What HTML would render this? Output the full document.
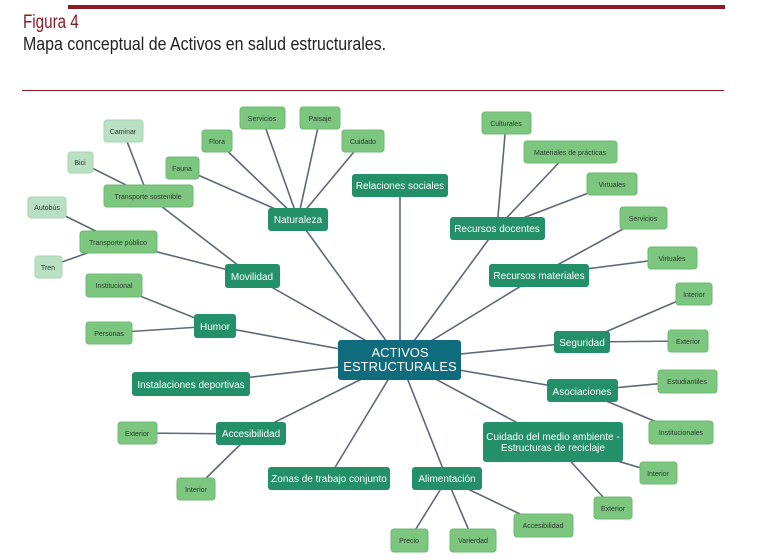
<!DOCTYPE html>
<html><head><meta charset="utf-8"><style>
html,body{margin:0;padding:0;background:#fff;width:763px;height:560px;overflow:hidden}
.h{position:absolute;font-family:"Liberation Sans",sans-serif;transform-origin:0 0;white-space:nowrap}
</style></head><body>
<div style="position:absolute;left:68px;top:5px;width:657px;height:4px;background:#8b1a24"></div>
<div class="h" style="left:23px;top:13px;font-size:19px;color:#8b1a24;line-height:20px;transform:scaleX(0.8)">Figura 4</div>
<div class="h" style="left:23px;top:34px;font-size:18px;color:#222;line-height:20px;transform:scaleX(0.885)">Mapa conceptual de Activos en salud estructurales.</div>
<div style="position:absolute;left:22px;top:90px;width:702px;height:1px;background:#8b1a24"></div>
<svg width="763" height="560" style="position:absolute;left:0;top:0" font-family="Liberation Sans, sans-serif">
<g stroke="#5f6779" stroke-width="1.6" fill="none">
<line x1="400" y1="360" x2="298" y2="219"/><line x1="400" y1="360" x2="400" y2="185"/>
<line x1="400" y1="360" x2="497" y2="228"/><line x1="400" y1="360" x2="539" y2="275"/>
<line x1="400" y1="360" x2="252" y2="276"/><line x1="400" y1="360" x2="215" y2="326"/>
<line x1="400" y1="360" x2="582" y2="342"/><line x1="400" y1="360" x2="191" y2="384"/>
<line x1="400" y1="360" x2="582" y2="391"/><line x1="400" y1="360" x2="251" y2="434"/>
<line x1="400" y1="360" x2="553" y2="442"/><line x1="400" y1="360" x2="328" y2="479"/>
<line x1="400" y1="360" x2="447" y2="479"/>
<line x1="298" y1="219" x2="217" y2="141"/><line x1="298" y1="219" x2="262" y2="118"/>
<line x1="298" y1="219" x2="320" y2="118"/><line x1="298" y1="219" x2="363" y2="141"/>
<line x1="298" y1="219" x2="182" y2="168"/>
<line x1="252" y1="276" x2="148" y2="196"/><line x1="252" y1="276" x2="118" y2="242"/>
<line x1="148" y1="196" x2="123" y2="131"/><line x1="148" y1="196" x2="80" y2="162"/>
<line x1="118" y1="242" x2="47" y2="207"/><line x1="118" y1="242" x2="48" y2="267"/>
<line x1="215" y1="326" x2="115" y2="286"/><line x1="215" y1="326" x2="108" y2="333"/>
<line x1="497" y1="228" x2="506" y2="123"/><line x1="497" y1="228" x2="570" y2="151"/>
<line x1="497" y1="228" x2="612" y2="184"/>
<line x1="539" y1="275" x2="643" y2="218"/><line x1="539" y1="275" x2="672" y2="258"/>
<line x1="582" y1="342" x2="694" y2="294"/><line x1="582" y1="342" x2="688" y2="341"/>
<line x1="582" y1="391" x2="687" y2="381"/><line x1="582" y1="391" x2="681" y2="432"/>
<line x1="553" y1="442" x2="658" y2="473"/><line x1="553" y1="442" x2="613" y2="508"/>
<line x1="447" y1="479" x2="543" y2="525"/><line x1="447" y1="479" x2="473" y2="540"/>
<line x1="447" y1="479" x2="409" y2="540"/>
<line x1="251" y1="434" x2="137" y2="433"/><line x1="251" y1="434" x2="196" y2="488"/>
</g>
<g fill="#b9e0c2" stroke="#a6d6b0">
<rect x="104" y="120" width="39" height="22" rx="3"/><rect x="68" y="152" width="25" height="21" rx="3"/>
<rect x="28" y="197" width="38" height="21" rx="3"/><rect x="35" y="256" width="27" height="22" rx="3"/>
</g>
<g fill="#7cc67f" stroke="#6bbb70">
<rect x="202" y="130" width="30" height="22" rx="3"/><rect x="240" y="107" width="45" height="22" rx="3"/>
<rect x="300" y="107" width="40" height="22" rx="3"/><rect x="342" y="130" width="42" height="22" rx="3"/>
<rect x="166" y="157" width="33" height="22" rx="3"/><rect x="104" y="185" width="89" height="22" rx="3"/>
<rect x="80" y="231" width="77" height="22" rx="3"/><rect x="86" y="274" width="56" height="23" rx="3"/>
<rect x="86" y="322" width="46" height="22" rx="3"/><rect x="482" y="112" width="49" height="22" rx="3"/>
<rect x="524" y="141" width="93" height="22" rx="3"/><rect x="587" y="173" width="50" height="22" rx="3"/>
<rect x="620" y="207" width="47" height="22" rx="3"/><rect x="648" y="247" width="49" height="22" rx="3"/>
<rect x="676" y="283" width="36" height="22" rx="3"/><rect x="668" y="330" width="40" height="22" rx="3"/>
<rect x="658" y="370" width="59" height="23" rx="3"/><rect x="649" y="421" width="64" height="23" rx="3"/>
<rect x="640" y="462" width="37" height="22" rx="3"/><rect x="594" y="497" width="38" height="22" rx="3"/>
<rect x="514" y="514" width="59" height="23" rx="3"/><rect x="450" y="529" width="46" height="23" rx="3"/>
<rect x="391" y="529" width="37" height="23" rx="3"/><rect x="118" y="422" width="39" height="22" rx="3"/>
<rect x="177" y="478" width="38" height="22" rx="3"/>
</g>
<g fill="#23906a">
<rect x="268" y="208" width="60" height="23" rx="3"/><rect x="352" y="174" width="96" height="23" rx="3"/>
<rect x="450" y="217" width="95" height="23" rx="3"/><rect x="489" y="264" width="100" height="23" rx="3"/>
<rect x="225" y="264" width="55" height="24" rx="3"/><rect x="194" y="314" width="42" height="24" rx="3"/>
<rect x="554" y="331" width="56" height="22" rx="3"/><rect x="132" y="372" width="118" height="24" rx="3"/>
<rect x="547" y="379" width="71" height="23" rx="3"/><rect x="216" y="422" width="70" height="23" rx="3"/>
<rect x="483" y="422" width="140" height="40" rx="3"/><rect x="268" y="467" width="122" height="23" rx="3"/>
<rect x="412" y="467" width="70" height="23" rx="3"/>
</g>
<rect x="338" y="340" width="123" height="40" rx="3" fill="#0f6c7c"/>
<g fill="#fff" font-size="10" text-anchor="middle">
<text x="298" y="223">Naturaleza</text><text x="400" y="189">Relaciones sociales</text>
<text x="497" y="232">Recursos docentes</text><text x="539" y="279">Recursos materiales</text>
<text x="252" y="280">Movilidad</text><text x="215" y="330">Humor</text>
<text x="582" y="346">Seguridad</text><text x="191" y="388">Instalaciones deportivas</text>
<text x="582" y="395">Asociaciones</text><text x="251" y="437">Accesibilidad</text>
<text x="553" y="440">Cuidado del medio ambiente -</text><text x="553" y="451">Estructuras de reciclaje</text>
<text x="329" y="482">Zonas de trabajo conjunto</text><text x="447" y="482">Alimentación</text>
<text x="400" y="357" font-size="13">ACTIVOS</text><text x="400" y="371" font-size="13">ESTRUCTURALES</text>
</g>
<g fill="#2d3a2f" font-size="7" text-anchor="middle">
<text x="123" y="134">Caminar</text><text x="80" y="165">Bici</text><text x="47" y="210">Autobús</text><text x="48" y="270">Tren</text>
<text x="217" y="144">Flora</text><text x="262" y="121">Servicios</text><text x="320" y="121">Paisaje</text><text x="363" y="144">Cuidado</text>
<text x="182" y="171">Fauna</text><text x="148" y="199">Transporte sostenible</text><text x="118" y="245">Transporte público</text>
<text x="114" y="288">Institucional</text><text x="109" y="336">Personas</text>
<text x="506" y="126">Culturales</text><text x="570" y="155">Materiales de prácticas</text><text x="612" y="187">Virtuales</text>
<text x="643" y="221">Servicios</text><text x="672" y="261">Virtuales</text><text x="694" y="297">Interior</text>
<text x="688" y="344">Exterior</text><text x="687" y="384">Estudiantiles</text><text x="681" y="435">Institucionales</text>
<text x="658" y="476">Interior</text><text x="613" y="511">Exterior</text><text x="543" y="528">Accesibilidad</text>
<text x="473" y="543">Varierdad</text><text x="409" y="543">Precio</text><text x="137" y="436">Exterior</text><text x="196" y="492">Interior</text>
</g>
</svg>
</body></html>
